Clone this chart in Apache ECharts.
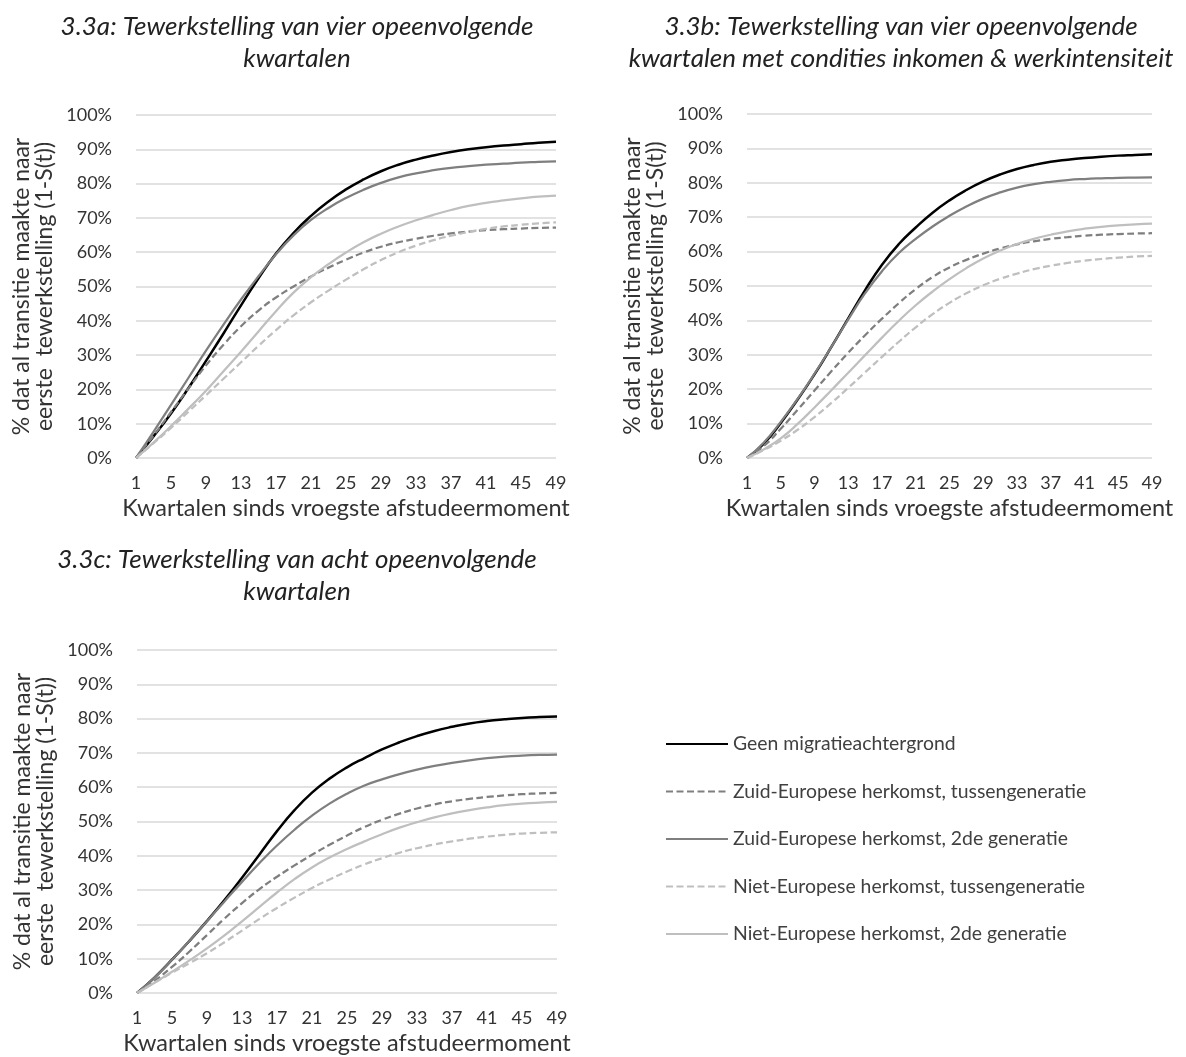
<!DOCTYPE html>
<html>
<head>
<meta charset="utf-8">
<script src="https://cdn.jsdelivr.net/npm/echarts@6/dist/echarts.min.js"></script>
<style>
html,body{margin:0;padding:0;background:#fff;}
#chart{width:1186px;height:1057px;}
</style>
</head>
<body>
<div id="chart"></div>
<script>
// Quarters at which values were read (every second quarter)
const quarters = [1,3,5,7,9,11,13,15,17,19,21,23,25,27,29,31,33,35,37,39,41,43,45,47,49];
const xTicks = [1,5,9,13,17,21,25,29,33,37,41,45,49];

const seriesNames = [
  'Geen migratieachtergrond',
  'Zuid-Europese herkomst, tussengeneratie',
  'Zuid-Europese herkomst, 2de generatie',
  'Niet-Europese herkomst, tussengeneratie',
  'Niet-Europese herkomst, 2de generatie'
];

// Panel 3.3a (%)
const aGeen        = [0,6.3,13.0,20.4,28.3,36.3,44.5,52.4,59.6,65.6,70.6,74.8,78.3,81.2,83.6,85.5,87.0,88.2,89.2,90.0,90.6,91.1,91.5,91.9,92.2];
const aZuidTussen  = [0,6.5,13.4,20.3,27.0,33.0,38.4,43.0,46.8,50.0,52.9,55.5,57.8,59.9,61.6,62.9,63.9,64.8,65.5,66.0,66.4,66.7,66.9,67.1,67.2];
const aZuid2de     = [0,7.6,15.5,23.4,31.3,38.9,46.2,53.0,59.4,64.9,69.4,72.9,75.8,78.2,80.2,81.8,83.0,83.9,84.6,85.1,85.5,85.8,86.1,86.3,86.5];
const aNietTussen  = [0,4.3,8.8,13.5,18.3,23.1,27.9,32.7,37.3,41.6,45.4,48.8,52.0,55.0,57.7,60.0,61.9,63.5,64.8,65.9,66.8,67.5,68.0,68.4,68.7];
const aNiet2de     = [0,4.5,9.3,14.4,19.6,25.3,31.0,36.9,42.8,48.2,52.7,56.5,59.9,62.9,65.4,67.5,69.3,70.9,72.3,73.5,74.4,75.1,75.7,76.2,76.5];

// Panel 3.3b (%)
const bGeen        = [0,4.2,10.2,17.0,24.3,32.3,40.6,48.8,56.2,62.2,67.0,71.3,74.9,77.9,80.4,82.4,84.0,85.2,86.1,86.7,87.2,87.6,87.9,88.1,88.3];
const bZuidTussen  = [0,3.5,8.5,14.0,19.6,25.2,30.6,35.7,40.5,45.0,49.1,52.6,55.4,57.6,59.4,60.9,62.1,63.0,63.7,64.2,64.6,64.9,65.1,65.25,65.35];
const bZuid2de     = [0,4.5,10.5,17.2,24.5,32.3,40.3,47.9,54.3,59.6,63.7,67.3,70.4,73.1,75.4,77.2,78.6,79.6,80.3,80.8,81.1,81.3,81.45,81.5,81.55];
const bNietTussen  = [0,2.3,5.0,8.2,11.9,16.0,20.4,24.9,29.4,33.8,38.0,41.8,45.1,47.9,50.2,52.1,53.6,54.9,55.9,56.7,57.35,57.85,58.25,58.55,58.75];
const bNiet2de     = [0,2.5,5.7,9.9,14.7,19.7,24.8,29.9,35.0,39.9,44.4,48.4,52.0,55.2,58.0,60.3,62.2,63.7,64.9,65.9,66.65,67.2,67.6,67.9,68.1];

// Panel 3.3c (%)
const cGeen        = [0,4.5,9.7,15.2,21.0,27.1,33.6,40.4,47.2,53.3,58.4,62.5,65.8,68.5,71.0,73.1,74.9,76.4,77.6,78.6,79.3,79.8,80.2,80.45,80.6];
const cZuidTussen  = [0,3.5,7.6,12.1,16.9,21.7,26.2,30.3,33.9,37.2,40.3,43.2,45.9,48.4,50.5,52.3,53.8,55.0,55.9,56.6,57.15,57.6,57.95,58.2,58.35];
const cZuid2de     = [0,4.5,9.7,15.2,20.9,26.7,32.4,37.9,43.0,47.6,51.7,55.2,58.1,60.5,62.3,63.8,65.1,66.2,67.1,67.85,68.45,68.9,69.2,69.4,69.5];
const cNietTussen  = [0,3.0,5.9,8.7,11.6,14.8,18.2,21.6,24.8,27.8,30.6,33.1,35.4,37.5,39.3,40.9,42.2,43.3,44.2,45.0,45.6,46.1,46.5,46.7,46.85];
const cNiet2de     = [0,3.0,6.2,9.5,13.0,16.8,20.9,25.1,29.3,33.2,36.6,39.5,42.0,44.2,46.3,48.2,49.8,51.2,52.35,53.3,54.1,54.75,55.2,55.5,55.7];

const titles = [
  '3.3a: Tewerkstelling van vier opeenvolgende\nkwartalen',
  '3.3b: Tewerkstelling van vier opeenvolgende\nkwartalen met condities inkomen & werkintensiteit',
  '3.3c: Tewerkstelling van acht opeenvolgende\nkwartalen'
];
const xTitle = 'Kwartalen sinds vroegste afstudeermoment';
const yTitle = '% dat al transitie maakte naar\neerste  tewerkstelling (1-S(t))';

const panels = [
  [aGeen, aZuidTussen, aZuid2de, aNietTussen, aNiet2de],
  [bGeen, bZuidTussen, bZuid2de, bNietTussen, bNiet2de],
  [cGeen, cZuidTussen, cZuid2de, cNietTussen, cNiet2de]
];

const FONT = 'Lato, "Open Sans", sans-serif';
const styles = [
  {color:'#000000', width:2.5, type:'solid'},
  {color:'#7f7f7f', width:2.25, type:[7,3.5]},
  {color:'#7f7f7f', width:2.25, type:'solid'},
  {color:'#bfbfbf', width:2.25, type:[7,3.5]},
  {color:'#bfbfbf', width:2.25, type:'solid'}
];

const grids = [
  {left:136, top:115, width:420, height:343},
  {left:747, top:114, width:405, height:344},
  {left:137, top:650, width:420, height:343}
];
const titlePos = [
  {left:292, top:6},
  {left:896, top:6},
  {left:292, top:539}
];

const xAxes = grids.map((g,i)=>({
  gridIndex:i, type:'value', min:1, max:49,
  axisLine:{show:false}, axisTick:{show:false}, splitLine:{show:false},
  axisLabel:{customValues:xTicks, fontSize:18, color:'#333', margin:16, fontFamily:FONT},
  name:xTitle, nameLocation:'middle', nameGap:38,
  nameTextStyle:{fontSize:23.5, color:'#333', fontFamily:FONT}
}));
const yAxes = grids.map((g,i)=>({
  gridIndex:i, type:'value', min:0, max:100, interval:10,
  axisLine:{show:false}, axisTick:{show:false},
  splitLine:{lineStyle:{color:'#d9d9d9', width:1.5}},
  axisLabel:{formatter:'{value}%', fontSize:18, color:'#333', margin:24, fontFamily:FONT},
  name:yTitle, nameLocation:'middle', nameRotate:90, nameGap:80,
  nameTextStyle:{fontSize:23, color:'#333', fontFamily:FONT, lineHeight:23}
}));

const series = [];
panels.forEach((vals,pi)=>{
  vals.forEach((arr,si)=>{
    series.push({
      name:seriesNames[si], type:'line', xAxisIndex:pi, yAxisIndex:pi,
      data:quarters.map((q,k)=>[q, arr[k]]),
      smooth:0.5, symbol:'none', animation:false,
      lineStyle:{color:styles[si].color, width:styles[si].width, type:styles[si].type},
      itemStyle:{color:styles[si].color},
      emphasis:{disabled:true}
    });
  });
});

const chart = echarts.init(document.getElementById('chart'), null, {renderer:'canvas'});
chart.setOption({
  animation:false,
  backgroundColor:'#ffffff',
  textStyle:{fontFamily:FONT},
  title: titles.map((t,i)=>({
    text:t, left:titlePos[i].left, top:titlePos[i].top, textAlign:'center',
    textStyle:{fontSize:26, fontStyle:'italic', fontWeight:'normal', color:'#222', lineHeight:32, fontFamily:FONT}
  })),
  legend:{
    orient:'vertical', left:660, top:729, itemWidth:62, itemHeight:14, itemGap:27.5,
    data:seriesNames, selectedMode:false,
    itemStyle:{opacity:0},
    textStyle:{fontSize:19.4, color:'#404040', lineHeight:20, fontFamily:FONT}
  },
  grid:grids,
  xAxis:xAxes,
  yAxis:yAxes,
  series:series
});
</script>
</body>
</html>
